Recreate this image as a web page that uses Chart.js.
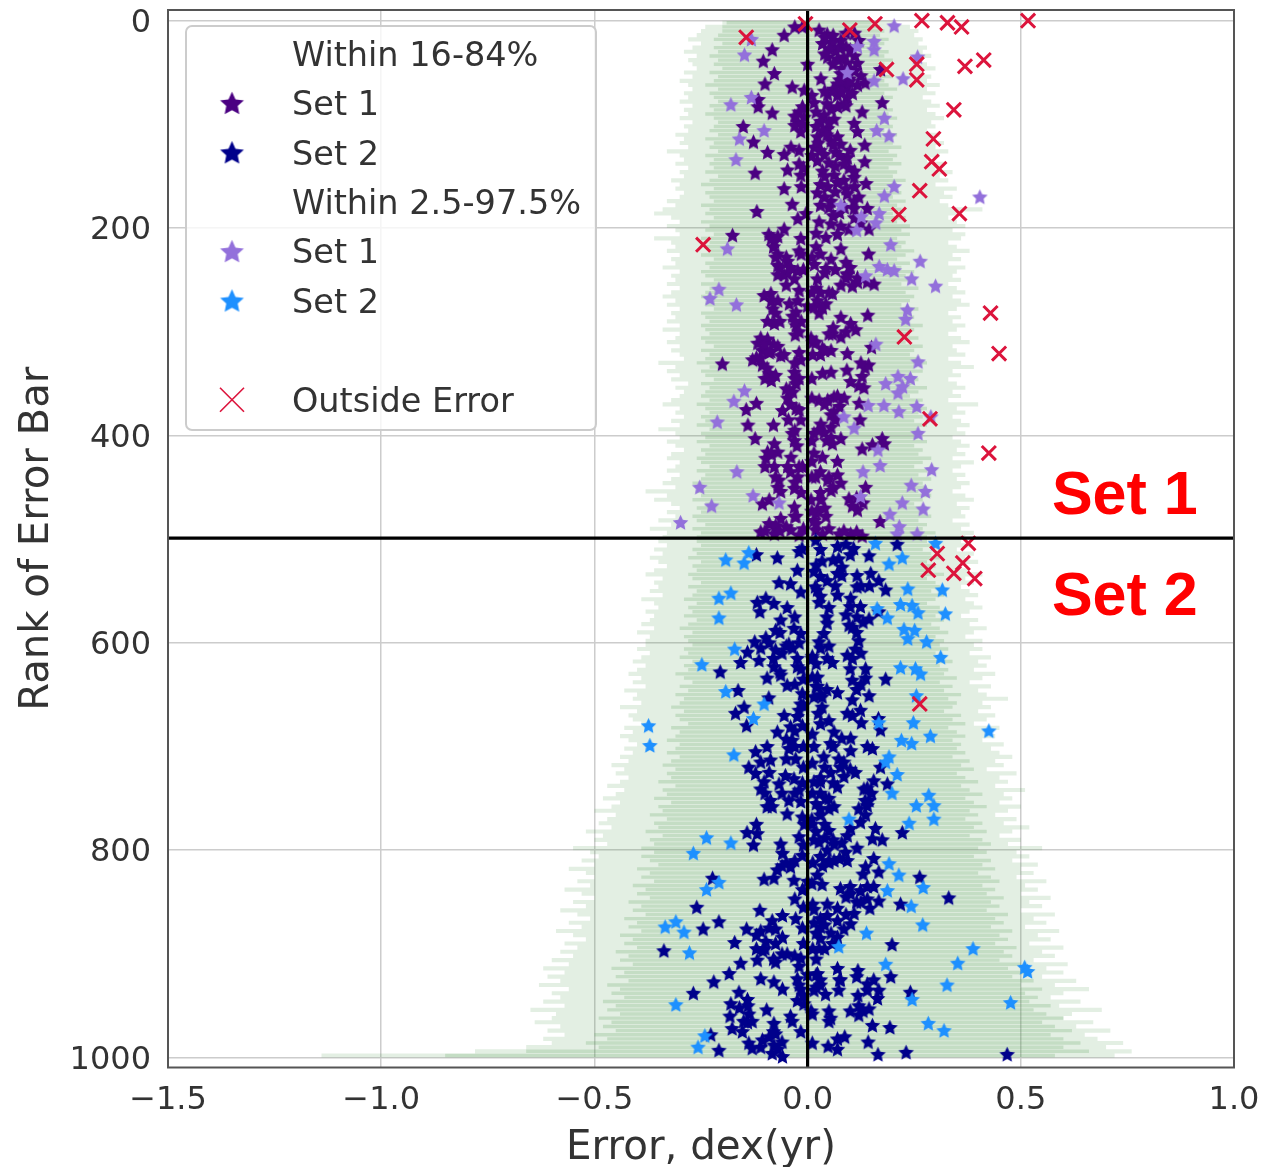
<!DOCTYPE html>
<html lang="en">
<head>
<meta charset="UTF-8">
<title>Rank of Error Bar</title>
<script src="https://cdn.jsdelivr.net/npm/chart.js"></script>
<style>
  html, body { margin: 0; background: #fff; }
  #wrap { width: 1263px; height: 1167px; }
</style>
</head>
<body>
<div id="wrap"><canvas id="myChart" width="1263" height="1167"></canvas></div>
<script>
const xTicks = [-1.5, -1.0, -0.5, 0.0, 0.5, 1.0];
const yTicks = [0, 200, 400, 600, 800, 1000];
const legendLabels = ['Within 16-84%', 'Set 1', 'Set 2', 'Within 2.5-97.5%', 'Set 1', 'Set 2', '', 'Outside Error'];

// error bars, one row every 4 ranks
const barRank = [2,6,10,14,18,22,26,30,34,38,42,46,50,54,58,62,66,70,74,78,82,86,90,94,98,
102,106,110,114,118,122,126,130,134,138,142,146,150,154,158,162,166,170,174,178,182,186,190,194,198,
202,206,210,214,218,222,226,230,234,238,242,246,250,254,258,262,266,270,274,278,282,286,290,294,298,
302,306,310,314,318,322,326,330,334,338,342,346,350,354,358,362,366,370,374,378,382,386,390,394,398,
402,406,410,414,418,422,426,430,434,438,442,446,450,454,458,462,466,470,474,478,482,486,490,494,498,
502,506,510,514,518,522,526,530,534,538,542,546,550,554,558,562,566,570,574,578,582,586,590,594,598,
602,606,610,614,618,622,626,630,634,638,642,646,650,654,658,662,666,670,674,678,682,686,690,694,698,
702,706,710,714,718,722,726,730,734,738,742,746,750,754,758,762,766,770,774,778,782,786,790,794,798,
802,806,810,814,818,822,826,830,834,838,842,846,850,854,858,862,866,870,874,878,882,886,890,894,898,
902,906,910,914,918,922,926,930,934,938,942,946,950,954,958,962,966,970,974,978,982,986,990,994,998];
const outerLo = [-.2,-.24,-.25,-.26,-.28,-.25,-.27,-.29,-.26,-.28,-.27,-.26,-.29,-.27,-.3,-.28,-.27,-.29,-.28,-.3,-.27,-.29,-.28,-.3,-.27,
-.29,-.28,-.31,-.29,-.3,-.28,-.33,-.3,-.29,-.31,-.28,-.3,-.29,-.32,-.3,-.31,-.29,-.3,-.33,-.31,-.34,-.36,-.32,-.3,-.33,
-.31,-.3,-.36,-.32,-.31,-.33,-.3,-.32,-.31,-.34,-.3,-.32,-.31,-.33,-.3,-.32,-.34,-.31,-.33,-.3,-.32,-.31,-.33,-.3,-.34,
-.3,-.31,-.33,-.3,-.32,-.3,-.29,-.35,-.31,-.33,-.3,-.32,-.28,-.31,-.29,-.3,-.32,-.34,-.3,-.31,-.29,-.32,-.3,-.35,-.31,
-.3,-.33,-.31,-.29,-.32,-.33,-.3,-.31,-.33,-.3,-.32,-.34,-.31,-.38,-.33,-.36,-.32,-.3,-.33,-.31,-.35,-.32,-.37,-.33,-.34,
-.35,-.33,-.36,-.34,-.37,-.35,-.33,-.36,-.38,-.34,-.36,-.35,-.37,-.34,-.39,-.36,-.35,-.38,-.36,-.37,-.39,-.36,-.4,-.37,-.38,
-.38,-.4,-.37,-.39,-.41,-.38,-.4,-.42,-.39,-.41,-.38,-.43,-.4,-.41,-.39,-.44,-.4,-.42,-.41,-.39,-.43,-.41,-.44,-.42,-.4,
-.43,-.41,-.44,-.42,-.46,-.43,-.45,-.42,-.44,-.47,-.43,-.45,-.48,-.44,-.46,-.5,-.45,-.47,-.49,-.46,-.52,-.48,-.5,-.47,-.55,
-.51,-.49,-.53,-.5,-.56,-.52,-.5,-.54,-.51,-.57,-.53,-.5,-.55,-.52,-.58,-.54,-.51,-.56,-.53,-.59,-.55,-.52,-.57,-.54,-.58,
-.55,-.6,-.56,-.62,-.57,-.61,-.58,-.63,-.56,-.6,-.58,-.62,-.57,-.65,-.59,-.6,-.64,-.58,-.61,-.57,-.62,-.6,-.66,-.78,-1.14];
const outerHi = [.2,.24,.26,.25,.27,.26,.28,.27,.29,.26,.28,.3,.27,.29,.28,.31,.28,.3,.27,.29,.31,.28,.3,.32,.29,
.3,.28,.31,.29,.32,.3,.33,.31,.28,.32,.3,.34,.31,.33,.3,.35,.32,.34,.31,.33,.41,.36,.33,.35,.37,
.34,.37,.36,.33,.35,.38,.34,.36,.33,.37,.35,.34,.36,.33,.35,.37,.34,.36,.38,.35,.33,.36,.34,.37,.35,
.33,.36,.38,.34,.35,.37,.33,.36,.39,.34,.36,.33,.35,.37,.34,.36,.33,.4,.35,.37,.34,.36,.38,.35,.37,
.34,.36,.38,.35,.37,.34,.39,.36,.34,.37,.35,.38,.36,.34,.37,.39,.35,.38,.36,.37,.34,.38,.36,.39,.37,
.36,.38,.35,.39,.37,.4,.36,.38,.41,.37,.39,.36,.38,.4,.37,.39,.41,.38,.36,.4,.38,.42,.39,.37,.41,
.39,.41,.38,.43,.4,.42,.39,.44,.41,.38,.43,.4,.42,.47,.41,.43,.4,.44,.42,.39,.45,.42,.44,.41,.46,
.43,.45,.48,.44,.46,.42,.49,.45,.47,.44,.51,.46,.48,.45,.5,.47,.44,.49,.46,.52,.48,.45,.5,.47,.55,
.49,.52,.48,.54,.5,.53,.49,.56,.51,.54,.5,.57,.52,.55,.5,.58,.53,.56,.51,.59,.54,.57,.52,.6,.55,
.58,.53,.61,.56,.6,.55,.63,.58,.66,.6,.57,.64,.59,.69,.62,.6,.67,.63,.71,.65,.68,.74,.7,.76,.72];
const innerLo = [-.19,-.2,-.2,-.21,-.22,-.2,-.22,-.21,-.23,-.21,-.22,-.2,-.23,-.21,-.22,-.24,-.21,-.23,-.22,-.21,-.23,-.22,-.24,-.22,-.21,
-.22,-.23,-.21,-.24,-.22,-.23,-.21,-.24,-.22,-.23,-.22,-.24,-.21,-.23,-.25,-.22,-.24,-.23,-.22,-.25,-.23,-.24,-.22,-.25,-.23,
-.24,-.22,-.25,-.23,-.24,-.23,-.25,-.22,-.24,-.23,-.25,-.24,-.22,-.25,-.23,-.24,-.25,-.23,-.24,-.22,-.25,-.24,-.23,-.25,-.24,
-.23,-.25,-.24,-.22,-.25,-.23,-.24,-.26,-.23,-.25,-.24,-.22,-.25,-.23,-.24,-.25,-.23,-.26,-.24,-.23,-.25,-.24,-.26,-.23,-.25,
-.24,-.26,-.23,-.25,-.24,-.26,-.25,-.23,-.26,-.24,-.25,-.27,-.24,-.26,-.25,-.27,-.24,-.26,-.25,-.27,-.26,-.24,-.27,-.25,-.26,
-.26,-.25,-.27,-.26,-.28,-.25,-.27,-.26,-.28,-.27,-.25,-.28,-.26,-.27,-.29,-.26,-.28,-.27,-.29,-.26,-.28,-.3,-.27,-.29,-.28,
-.27,-.29,-.28,-.3,-.27,-.29,-.28,-.31,-.29,-.27,-.3,-.28,-.31,-.29,-.3,-.32,-.29,-.31,-.3,-.28,-.32,-.3,-.31,-.33,-.3,
-.31,-.33,-.3,-.32,-.34,-.31,-.33,-.32,-.35,-.31,-.34,-.33,-.36,-.32,-.35,-.34,-.37,-.33,-.36,-.35,-.38,-.34,-.37,-.36,-.39,
-.36,-.39,-.37,-.35,-.4,-.37,-.39,-.36,-.41,-.38,-.4,-.37,-.42,-.39,-.41,-.38,-.43,-.4,-.42,-.39,-.44,-.41,-.43,-.4,-.45,
-.42,-.44,-.41,-.46,-.43,-.45,-.42,-.47,-.44,-.46,-.43,-.48,-.45,-.47,-.44,-.49,-.46,-.48,-.45,-.5,-.47,-.52,-.49,-.66,-.85];
const innerHi = [.15,.17,.18,.17,.19,.18,.17,.19,.18,.2,.18,.19,.17,.2,.18,.19,.21,.18,.2,.19,.18,.2,.19,.21,.19,
.2,.18,.21,.19,.2,.22,.19,.21,.2,.22,.19,.21,.2,.23,.21,.19,.22,.2,.23,.21,.22,.2,.23,.21,.24,
.22,.24,.21,.23,.22,.25,.23,.21,.24,.22,.25,.23,.24,.22,.26,.23,.25,.24,.22,.26,.24,.25,.23,.27,.25,
.24,.26,.23,.27,.25,.24,.26,.28,.25,.27,.24,.26,.25,.28,.26,.24,.27,.25,.28,.26,.27,.25,.28,.26,.27,
.26,.28,.25,.27,.26,.29,.27,.25,.28,.26,.29,.27,.28,.26,.29,.27,.25,.28,.27,.29,.26,.28,.27,.3,.28,
.28,.3,.27,.29,.31,.28,.3,.29,.32,.28,.3,.31,.29,.32,.3,.28,.31,.33,.3,.32,.29,.31,.33,.3,.32,
.31,.33,.3,.32,.34,.31,.33,.32,.35,.31,.34,.32,.36,.33,.35,.34,.32,.36,.34,.37,.33,.35,.37,.34,.36,
.35,.37,.34,.38,.36,.39,.35,.37,.4,.36,.38,.41,.37,.39,.42,.38,.4,.37,.41,.39,.42,.38,.41,.43,.4,
.42,.39,.43,.41,.44,.4,.43,.45,.41,.44,.42,.46,.43,.45,.42,.47,.44,.46,.43,.48,.45,.47,.44,.49,.46,
.48,.45,.5,.47,.51,.48,.53,.5,.55,.51,.54,.52,.57,.53,.56,.6,.55,.58,.62,.57,.6,.64,.6,.66,.58];

// [error, rank]
const set1Inner = [[-.055,14],[-.03,6],[-.012,6],[.027,9],[.046,13],[.035,22],[.058,21],[.078,19],[.09,12],[.11,12],[.12,19],[.066,29],[.047,35],[.07,37],[.11,34],[-.083,28],[-.104,39],[0,42],[.093,41],[.117,41],[.171,47],[-.078,51],[.031,56],[.078,51],[.098,56],[.125,53],[-.1,61],[-.036,64],[.07,61],[.093,64],[.117,62],[-.008,67],[.047,71],[.07,72],[.093,74],[.015,79],[-.116,76],[-.116,83],[.175,79],[-.012,83],[-.083,89],[.055,85],[.086,80],[.128,88],[.039,91],[.062,95],[-.023,98],[-.008,93],[-.03,101],[-.016,107],[-.151,102],[.109,99],[.117,107],[.047,104],[.023,112],[.055,116],[-.127,117],[.078,119],[.016,122],[-.039,122],[-.055,129],[-.094,127],[.134,120],[.039,129],[.066,127],[.093,132],[.134,136],[.023,135],[-.02,138],[-.047,144],[-.016,149],[-.123,147],[.097,142],[.035,145],[.062,149],[.085,154],[.109,151],[.137,157],[.047,160],[.07,156],[-.055,162],[.023,166],[.055,174],[.093,167],[.109,174],[-.036,177],[.086,180],[.109,181],[.14,181],[-.119,184],[-.023,191],[-.004,186],[.027,194],[.055,196],[.078,198],[.097,201],[.144,201],[-.055,201],[-.091,206],[-.176,207],[.043,209],[-.016,210],[-.078,213],[.02,218],[.078,220],[-.02,222],[-.07,225],[.143,225],[.055,230],[-.047,232],[-.07,236],[.016,235],[.09,233],[-.023,241],[.043,239],[-.047,243],[.117,248],[.093,245],
[-.055,245],[-.031,249],[.023,249],[.078,255],[.093,244],[.117,252],[.14,252],[.156,254],[.058,263],[-.086,263],[-.102,265],[-.043,273],[-.023,270],[.023,270],[.043,273],[-.082,278],[-.027,281],[.027,282],[.141,284],[.078,286],[-.078,292],[-.094,290],[-.027,294],[.101,292],[.113,298],[.058,302],[.078,305],[-.029,303],[-.094,307],[-.117,311],[.012,310],[.035,316],[.055,318],[.15,315],[-.086,319],[-.063,323],[-.106,318],[.093,321],[-.2,331],[-.129,327],[-.016,327],[-.106,332],[.143,332],[-.09,340],[-.075,342],[-.031,339],[.092,337],[.035,340],[.055,339],[.128,343],[.101,348],[-.027,350],[.132,354],[-.043,356],[-.047,364],[.062,363],[.027,366],[.086,364],[.047,366],[.121,369],[-.12,369],[-.144,375],[-.059,376],[-.027,374],[.062,377],[.123,385],[-.016,385],[-.14,390],[-.08,390],[.031,389],[-.036,398],[.055,392],[.015,398],[.039,397],[.078,403],[.058,408],[.175,403],[.18,408],[.152,409],[.128,413],[-.123,403],[-.031,405],[-.078,408],[-.094,416],[-.07,416],[.015,417],[.035,421],[-.039,421],[.07,425],[-.098,422],[-.012,430],[-.047,430],[-.078,430],[-.067,443],[-.023,440],[.019,440],[.047,443],[.078,446],[.136,450],[-.063,454],[-.031,451],[.031,462],[.055,453],[.097,461],[.117,472],[-.106,466],[-.09,462],[-.031,469],[.023,472],[.043,478],[.015,482],[-.09,485],[-.063,480],[-.027,478],[.17,483],[-.11,493],[-.078,495],[-.039,491],[.074,495],[.101,495],[.019,491],[-.02,496],[.128,497],
[.04,16],[.06,14],[.075,26],[.05,27],[.09,25],[.1,28],[.04,32],[.06,42],[.085,35],[.1,46],[.08,46],[.11,48],[.09,60],[.075,57],[.06,66],[.08,68],[.105,70],[.09,82],[.07,83],[.045,80],[.04,68],[.1,58],[.135,60],[.01,72],[.02,88],[.05,98],[.03,97],[-.02,88],[-.03,92],[-.012,100],[.02,102],[.035,106],[.025,118],[.045,110],[.07,112],[.06,120],[.1,125],[.075,130],[.01,130],[-.02,125],[-.01,142],[.03,125],[.05,137],[.065,140],[.04,150],[.03,158],[.065,165],[.04,170],[.05,180],[.03,178],[.11,160],[.09,162],[.11,145],[.085,138],[.12,170],[.075,185],[-.015,160],[.06,188],[.11,190],[.125,195],[.02,205],[.07,206],[-.08,218],[-.075,228],[-.065,238],[-.05,228],[-.04,238],[-.015,225],[-.01,240],[.01,228],[.03,225],[.04,243],[.065,240],[.1,238],[-.085,210],[-.07,208],
[-.07,245],[-.05,255],[-.02,260],[.02,258],[.05,262],[.03,262],[.09,248],[.105,256],[-.035,285],[-.015,290],[-.03,290],[-.02,300],[-.085,270],[-.07,270],[-.065,290],[-.075,282],[.015,276],[.035,277],[0,275],[.09,300],[.05,302],[.06,296],[-.11,306],[-.1,312],[-.08,312],[-.07,314],[-.09,320],[-.055,322],[-.12,325],[-.11,325],[-.095,335],[-.1,345],[-.085,347],[-.02,320],[-.03,330],[-.02,345],[.02,310],[.03,322],[.04,318],[-.035,358],[-.04,370],[-.05,355],[-.03,345],[.135,335],[.125,330],[.12,352],[.04,370],[.07,362],[.075,372],[.055,380],[.065,385],[-.045,385],[-.02,375],[-.03,395],[-.025,410],[.025,395],[.045,405],[.01,405],[.055,402],[-.085,418],[-.1,430],[-.075,440],[-.07,450],[-.04,435],[-.03,445],[-.02,430],[-.015,455],[.01,425],[.03,435],[.05,440],[.06,450],[.07,438],[.03,455],[.02,475],[.04,470],[.115,460],[.105,468],[.13,465],[-.03,478],[-.05,488],[-.075,487],[-.1,492],[-.065,492],[.05,490],[.085,492],[.115,493],[.035,495],[-.01,490],[.02,485],
[.01,262],[.008,306],[.012,322],[.01,345],[.01,364],[.01,440],[.008,462],[.01,473]];
const set2Inner = [[-.12,515],[-.071,518],[-.013,509],[.019,501],[.07,507],[.108,509],[.144,516],[.21,505],[.034,521],[.073,519],[-.024,530],[.081,527],[.03,536],[.07,533],[.046,540],[-.067,542],[-.04,543],[.116,535],[.148,533],[.167,540],[.183,549],[-.016,551],[.023,549],[.07,554],[.101,557],[.116,546],[.027,561],[.05,566],[-.118,561],[-.098,557],[-.079,562],[-.112,570],[-.048,566],[.124,565],[.167,570],[.144,577],[.116,575],[-.063,578],[.046,581],[.097,583],[-.032,586],[-.075,588],[-.016,591],[.038,591],[-.098,595],[.027,599],[-.124,599],[-.044,601],[.12,598],[-.075,607],[.112,606],[-.141,609],[.093,612],[-.024,615],[-.157,619],[-.114,617],[.046,615],[.058,619],[.011,615],[-.079,623],[-.205,628],[-.024,623],[.136,625],[-.095,634],[-.063,631],[.023,633],[.105,636],[.136,634],[.183,635],[-.048,641],[.023,642],[-.163,646],[-.0125,649],[.07,648],[.144,651],[.034,652],[-.091,653],[.105,655],[-.016,659],[-.149,662],[-.169,668],[.034,662],[.093,668],[.124,665],[-.055,670],[-.024,671],[.05,675],[.166,673],[.126,677],[-.143,680],[-.04,681],[.171,684],[-.071,686],[.062,686],[.011,688],[.101,692],[-.036,694],[.054,697],[.14,700],[.152,702],[-.095,700],[-.122,705],[-.044,702],[.101,704],[.038,710],[.073,712],[-.028,712],[-.087,713],[-.138,720],[.011,716],[.171,720],[.077,720],[-.122,726],[.054,725],[.112,725],[-.052,728],[-.032,731],[.085,729],[-.102,734],[-.067,736],[.155,733],[.187,736],[.03,734],[.07,739],[.132,741],[-.02,742],[-.11,741],[.03,745],[-.087,752],[-.044,752],[.042,750],[.144,752],[-.095,758],[-.016,753],
[-.083,758],[-.048,765],[-.0125,768],[.03,766],[.05,760],[.062,758],[.14,757],[.136,766],[.124,773],[-.12,775],[.101,779],[-.142,783],[-.118,784],[.159,779],[.222,783],[-.02,787],[.05,781],[.093,786],[.152,789],[.175,790],[-.127,795],[-.063,794],[.027,792],[.062,794],[.116,798],[.046,800],[.089,802],[-.059,803],[-.0125,805],[.03,806],[.062,810],[.093,810],[.155,808],[-.04,816],[-.071,819],[.136,816],[.167,821],[.13,823],[.263,826],[-.102,828],[-.079,827],[-.032,829],[-.223,827],[.023,824],[0,830],[.034,833],[.155,835],[.077,837],[.101,842],[.124,839],[-.03,847],[.331,846],[.14,847],[.167,849],[-.26,855],[.218,852],[.046,852],[.146,856],[.015,857],[.07,856],[-.112,858],[-.059,863],[.109,861],[.046,863],[.03,866],[-.028,866],[-.083,868],[-.208,869],[.101,871],[.03,874],[-.143,876],[-.245,876],[-.075,876],[.085,876],[-.12,882],[-.059,884],[.07,884],[.03,885],[-.171,889],[-.098,888],[.198,891],[.058,890],[.027,895],[-.337,897],[-.105,897],[-.048,900],[-.118,906],[-.075,908],[-.157,909],[-.016,904],[-.184,919],[.07,914],[.118,916],[.023,919],[-.11,924],[-.22,927],[-.024,924],[.077,925],[.115,922],[.195,922],[-.079,927],[.14,929],[.03,930],[-.059,934],[.073,935],[.167,935],[-.161,937],[-.268,938],[-.016,934],[.042,939],[.118,940],[.241,937],[-.141,944],[.164,943],[-.024,945],[-.18,948],[-.0086,948],[-.096,954],[.144,953],[.05,955],[-.138,958],[-.182,960],[.011,958],[.12,959],[.054,962],[-.141,966],[-.036,965],[-.079,967],[.152,969],[.193,971],[-.177,972],[-.153,975],[-.075,977],[-.227,978],[-.016,975],[.087,980],[.07,982],[-.106,983],[-.138,986],[.142,985],[-.079,988],[.011,986],[.048,989],[-.208,993],[-.13,991],[.07,992],[-.083,996],[-.059,999],[.165,997],[.231,995],[.468,997],
[-.02,512],[.06,520],[.08,535],[.065,545],[.02,525],[.03,510],[.1,515],[.09,505],[.125,545],[.145,545],[.03,555],[.045,575],[.1,565],[.105,585],[.115,590],[.13,580],[.09,573],[-.03,575],[-.065,590],[-.05,603],[-.035,605],[-.02,600],[-.015,625],[.02,620],[.03,605],[.05,603],[-.09,600],[-.11,605],[-.06,610],[-.08,615],[-.03,640],[-.065,628],[-.01,635],[.03,650],[.045,645],[.105,615],[.125,610],[.1,625],[.115,645],[.125,640],[-.02,665],[.025,668],[.105,670],[.03,678],[.06,700],[.08,692],[-.03,685],[-.05,693],[.015,700],[-.05,712],[-.03,700],[.04,720],[.06,735],[.085,715],[.1,722],[-.11,715],[-.09,725],[-.06,745],[-.03,745],[.03,730],[.02,755],[.03,760],[.14,740],[.15,745],[-.1,745],[.05,750],[.12,760],[.135,752],
[.04,775],[.04,788],[.02,782],[.06,790],[.08,793],[.075,808],[.05,810],[.01,775],[.035,815],[.05,812],[-.05,812],[-.03,810],[-.06,815],[.14,835],[.1,835],[.125,850],[.09,845],[.115,850],[.09,862],[.07,868],[.04,872],[.02,880],[.055,880],[.04,895],[-.09,875],[-.11,878],[-.075,890],[-.1,895],[-.08,905],[-.12,895],[-.06,900],[-.03,902],[-.02,912],[0,920],[.02,905],[.03,925],[.02,932],[-.01,940],[-.02,930],[.075,925],[.14,935],[.155,925],[-.14,950],[-.16,952],[-.13,965],[-.15,965],[-.08,975],[-.06,985],[-.09,980],[-.07,992],[-.11,990],[.13,955],[.12,950],[.05,965],[.1,955],[-.04,960],
[.015,531],[.018,546],[.011,613],[.011,633],[.02,642],[.015,652],[.015,734],[.011,745],[.01,770],[.015,790],[.012,812],[.01,832],[.012,852],[.015,870],[.012,895],[.02,920],[.015,935],[.008,955],[-.01,660],[-.012,680],[-.01,700],[-.01,720],[-.012,735],[-.008,775],[-.01,795],[-.012,838],[-.01,855],[-.012,875],[-.01,890]];
const set1Outer = [[.203,5],[-.132,18],[.156,20],[.156,28],[.117,25],[-.148,33],[.258,35],[.093,50],[.156,58],[.224,56],[-.132,74],[-.18,81],[.18,94],[.162,106],[.191,111],[-.102,106],[-.16,114],[-.168,134],[.203,160],[.18,169],[.404,170],[.078,178],[.168,186],[.126,189],[.16,195],[.115,202],[.195,216],[-.188,220],[.264,232],[.168,237],[.187,240],[.203,241],[.244,249],[.136,246],
[.3,256],[-.208,259],[-.229,268],[-.167,274],[.234,279],[.23,288],[.16,312],[.259,329],[.212,343],[.241,345],[.183,350],[.223,353],[.212,359],[-.148,357],[-.173,367],[.142,371],[.179,371],[.214,377],[.256,372],[.289,382],[-.212,387],[.085,382],[.109,393],[.259,398],[.165,414],[.17,429],[.13,435],[-.166,435],[.291,433],[-.253,450],[.243,448],[.276,454],[-.128,458],[.124,459],[-.067,465],[.222,465],[-.225,468],[.271,471],[.193,476],[-.298,484],[.215,488],[.21,495],[.257,495]];
const set2Outer = [[-.192,520],[-.138,513],[-.149,523],[.159,504],[.3,504],[.222,518],[.191,524],[.235,548],[.316,549],[-.208,557],[-.18,552],[-.208,576],[.218,563],[.245,564],[.259,571],[.323,572],[.163,567],[.187,576],[.226,587],[.251,588],[.235,596],[.279,599],[-.171,606],[.312,614],[-.248,621],[.218,624],[.253,625],[.265,630],[-.192,647],[-.102,659],[.255,651],[-.127,673],[.248,677],[.167,677],[-.373,680],[-.37,699],[.288,690],[.425,685],[.22,694],[.244,697],[-.173,708],[.191,710],[.183,715],[.21,727],[.198,745],[.284,747],[.255,757],[.296,757],
[.296,770],[.097,770],[.238,774],[-.237,788],[-.18,793],[-.268,803],[.191,813],[.214,824],[-.208,831],[-.237,838],[.271,836],[.187,839],[.243,854],[-.309,869],[-.334,874],[-.29,879],[.27,872],[.138,880],[.073,893],[-.277,899],[.388,895],[.352,909],[.183,910],[.509,913],[.516,917],[.327,930],[.245,944],[-.309,949],[.476,947],[.283,967],[.32,974],[-.241,979],[-.257,990]];
const outside = [[-.005,3],[.099,9],[.158,3],[.268,0],[.328,2],[.361,6],[.517,0],[-.144,16],[.185,47],[.256,42],[.369,44],[.413,38],[.256,57],[.343,86],[.295,114],[.291,136],[.309,143],[.263,164],[.214,187],[.356,186],[-.245,216],
[.429,282],[.449,321],[.227,305],[.287,384],[.425,417],[.377,504],[.304,514],[.364,523],[.283,530],[.343,533],[.392,538],[.263,659]];

const zeroErr = 0;
const splitRank = 499;
const yMin = -10.3, yMax = 1009.6;

const setLabels = ['Set 1', 'Set 2'];
const setLabelErr = [0.573, 0.573];
const setLabelRank = [459.5, 557];

function makeStar(color, r) {
    const c = document.createElement('canvas');
    c.width = c.height = Math.ceil(r * 2 + 2);
    const g = c.getContext('2d');
    g.translate(c.width / 2, c.height / 2 + r * 0.06);
    g.beginPath();
    for (let i = 0; i < 10; i++) {
        const rad = i % 2 ? r * 0.48 : r;
        const a = -Math.PI / 2 + i * Math.PI / 5;
        g.lineTo(Math.cos(a) * rad, Math.sin(a) * rad);
    }
    g.closePath();
    g.fillStyle = color;
    g.fill();
    return c;
}

const colors = { set1Inner: '#4b0082', set2Inner: '#00008b', set1Outer: '#9370db', set2Outer: '#1e90ff', outside: '#dc143c' };

function toPoints(list) {
    return list.map(p => ({ x: p[0], y: p[1] }));
}
function barPoints(lo, hi) {
    const pts = [];
    barRank.forEach((r, i) => {
        pts.push({ x: lo[i], y: r }, { x: hi[i], y: r }, { x: null, y: null });
    });
    return pts;
}
function starSet(label, list, color, order) {
    const img = makeStar(color, 8.2);
    return { label, data: toPoints(list), pointStyle: img, pointRadius: 7, showLine: false, order };
}

const legendIcons = [null, makeStar(colors.set1Inner, 12.5), makeStar(colors.set2Inner, 12.5), null,
    makeStar(colors.set1Outer, 12.5), makeStar(colors.set2Outer, 12.5), null, 'x'];

// legend box and the two red notes are drawn on top of the chart
const overlay = {
    id: 'overlay',
    afterDraw(chart) {
        const ctx = chart.ctx, a = chart.chartArea;
        ctx.save();
        ctx.strokeStyle = '#555';
        ctx.lineWidth = 2;
        ctx.strokeRect(a.left, a.top, a.right - a.left, a.bottom - a.top);

        ctx.beginPath();
        ctx.roundRect(186, 26, 410, 404, 6);
        ctx.fillStyle = 'rgba(255,255,255,0.8)';
        ctx.fill();
        ctx.strokeStyle = '#ccc';
        ctx.lineWidth = 2;
        ctx.stroke();

        ctx.font = '33.5px "DejaVu Sans"';
        ctx.textBaseline = 'middle';
        legendLabels.forEach((t, i) => {
            const y = 54 + i * 49.4;
            const icon = legendIcons[i];
            if (icon === 'x') {
                ctx.strokeStyle = colors.outside;
                ctx.lineWidth = 1.6;
                ctx.beginPath();
                ctx.moveTo(220, y - 12); ctx.lineTo(244, y + 12);
                ctx.moveTo(244, y - 12); ctx.lineTo(220, y + 12);
                ctx.stroke();
            } else if (icon) {
                ctx.drawImage(icon, 232 - icon.width / 2, y - icon.height / 2);
            }
            ctx.fillStyle = '#333';
            ctx.fillText(t, 292, y + 3);
        });

        ctx.font = 'bold 61px "Liberation Sans"';
        ctx.fillStyle = '#ff0000';
        setLabels.forEach((t, i) => {
            ctx.fillText(t, chart.scales.x.getPixelForValue(setLabelErr[i]), chart.scales.y.getPixelForValue(setLabelRank[i]));
        });
        ctx.restore();
    }
};

function noScalePadding(s) {
    s.paddingLeft = s.paddingRight = s.paddingTop = s.paddingBottom = 0;
}

const myChart = new Chart(document.getElementById('myChart'), {
    type: 'scatter',
    plugins: [overlay],
    data: {
        datasets: [
            { label: '2.5-97.5%', data: barPoints(outerLo, outerHi), showLine: true, pointRadius: 0, borderColor: 'rgba(70,150,70,0.15)', borderWidth: 4.15, order: 9 },
            { label: '16-84%', data: barPoints(innerLo, innerHi), showLine: true, pointRadius: 0, borderColor: 'rgba(70,150,70,0.2)', borderWidth: 3.4, order: 8 },
            starSet('Set 1 inner', set1Inner, colors.set1Inner, 7),
            starSet('Set 2 inner', set2Inner, colors.set2Inner, 6),
            starSet('Set 1 outer', set1Outer, colors.set1Outer, 5),
            starSet('Set 2 outer', set2Outer, colors.set2Outer, 4),
            { label: 'Outside Error', data: toPoints(outside), pointStyle: 'crossRot', pointRadius: 10, borderColor: colors.outside, backgroundColor: colors.outside, pointBorderWidth: 3, showLine: false, order: 3 },
            { label: 'zero', data: [{ x: zeroErr, y: yMin }, { x: zeroErr, y: yMax }], showLine: true, pointRadius: 0, borderColor: '#000', borderWidth: 3.2, order: 2 },
            { label: 'split', data: [{ x: -1.5, y: splitRank }, { x: 1, y: splitRank }], showLine: true, pointRadius: 0, borderColor: '#000', borderWidth: 3.2, order: 1 }
        ]
    },
    options: {
        responsive: false,
        animation: false,
        events: [],
        layout: { autoPadding: false, padding: { top: 10, right: 29, left: 0, bottom: 0 } },
        plugins: { legend: { display: false }, tooltip: { enabled: false } },
        scales: {
            x: {
                type: 'linear', min: -1.5, max: 1,
                afterBuildTicks(s) { s.ticks = xTicks.map(v => ({ value: v })); },
                afterFit(s) { s.height = 99.5; noScalePadding(s); },
                grid: { color: '#ccc', lineWidth: 1.5, drawTicks: false },
                border: { display: false },
                ticks: {
                    color: '#333', font: { family: 'DejaVu Sans', size: 32 }, padding: 14, maxRotation: 0,
                    callback: v => v.toFixed(1).replace('-', '\u2212')
                },
                title: { display: true, text: 'Error, dex(yr)', color: '#333', font: { family: 'DejaVu Sans', size: 40.4 }, padding: { top: 0, bottom: -6 } }
            },
            y: {
                type: 'linear', reverse: true, min: yMin, max: yMax,
                afterBuildTicks(s) { s.ticks = yTicks.map(v => ({ value: v })); },
                afterFit(s) { s.width = 168; noScalePadding(s); },
                grid: { color: '#ccc', lineWidth: 1.5, drawTicks: false },
                border: { display: false },
                ticks: { color: '#333', font: { family: 'DejaVu Sans', size: 32 }, padding: 17, labelOffset: 3, callback: v => String(v) },
                title: { display: true, text: 'Rank of Error Bar', color: '#333', font: { family: 'DejaVu Sans', size: 40.2 }, padding: { top: 13, bottom: 0 } }
            }
        }
    }
});
</script>
</body>
</html>
